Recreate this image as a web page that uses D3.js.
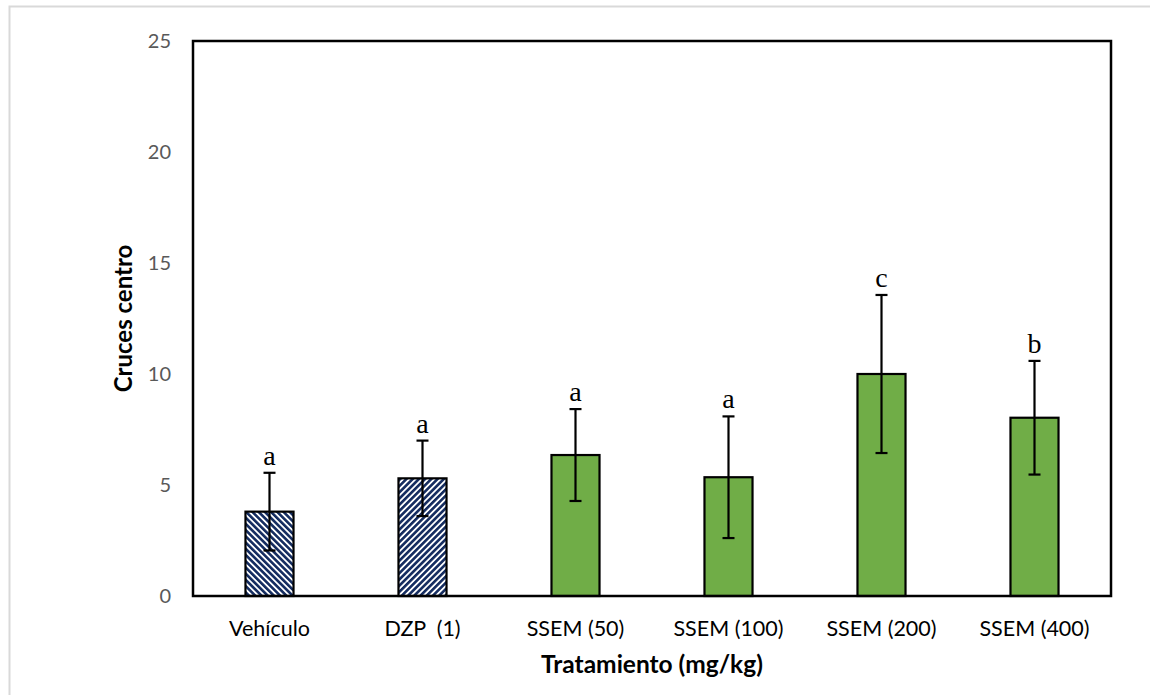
<!DOCTYPE html>
<html>
<head>
<meta charset="utf-8">
<script src="https://cdn.jsdelivr.net/npm/d3@7"></script>
<style>
  html, body { margin: 0; padding: 0; background: #fff; }
  svg { display: block; }
</style>
</head>
<body>
<svg id="chart" width="1150" height="695"></svg>
<script>
// Treatment groups, mean number of centre crossings, standard deviation and letters
const categories = ["Vehículo", "DZP  (1)", "SSEM (50)", "SSEM (100)", "SSEM (200)", "SSEM (400)"];
const means = [3.8, 5.3, 6.35, 5.35, 10.0, 8.03];
const errors = [1.75, 1.7, 2.07, 2.74, 3.56, 2.56];
const letters = ["a", "a", "a", "a", "c", "b"];
const fills = ["hatchBack", "hatchFwd", "green", "green", "green", "green"];
const yTicks = [0, 5, 10, 15, 20, 25];

const svg = d3.select("#chart");
const W = 1150, H = 695;
const margin = { left: 193, top: 41, right: 1111, bottom: 596 };
const sans = "Lato, 'Open Sans', sans-serif";

// Light frame round the chart
svg.append("rect")
  .attr("x", 9.5).attr("y", 6.5)
  .attr("width", W).attr("height", H)
  .attr("fill", "none").attr("stroke", "#d9d9d9").attr("stroke-width", 2);

// Hatch patterns for the two control groups
const defs = svg.append("defs");
function hatch(id, angle) {
  const p = defs.append("pattern")
    .attr("id", id).attr("patternUnits", "userSpaceOnUse")
    .attr("width", 4.4).attr("height", 4.4)
    .attr("patternTransform", `rotate(${angle})`);
  p.append("rect").attr("width", 4.4).attr("height", 4.4).attr("fill", "#ffffff");
  p.append("rect").attr("width", 2.6).attr("height", 4.4).attr("fill", "#142c60");
}
hatch("hatchBack", -45);
hatch("hatchFwd", 45);

const fillFor = k => k === "green" ? "#70ad47" : `url(#${k})`;

const x = d3.scaleBand()
  .domain(categories)
  .range([margin.left, margin.right])
  .paddingInner(0.686)
  .paddingOuter(0.343);

const y = d3.scaleLinear()
  .domain([0, 25])
  .range([margin.bottom, margin.top]);

// Y axis tick labels (no tick marks)
const yAxis = svg.append("g")
  .attr("transform", `translate(${margin.left},0)`)
  .call(d3.axisLeft(y).tickValues(yTicks).tickSize(0).tickPadding(22));
yAxis.select(".domain").remove();
yAxis.selectAll("text")
  .attr("fill", "#595959")
  .style("font-family", sans)
  .style("font-size", "20px");

// X axis category labels
const xAxis = svg.append("g")
  .attr("transform", `translate(0,${margin.bottom})`)
  .call(d3.axisBottom(x).tickSize(0).tickPadding(25));
xAxis.select(".domain").remove();
xAxis.selectAll("text")
  .attr("fill", "#000")
  .style("font-family", sans)
  .style("font-size", "21.5px")
  .style("white-space", "pre");

const data = categories.map((c, i) => ({ c, m: means[i], e: errors[i], l: letters[i], f: fills[i] }));

// Bars
svg.append("g").selectAll("rect")
  .data(data).join("rect")
  .attr("x", d => x(d.c))
  .attr("y", d => y(d.m))
  .attr("width", x.bandwidth())
  .attr("height", d => y(0) - y(d.m))
  .attr("fill", d => fillFor(d.f))
  .attr("stroke", "#000").attr("stroke-width", 2.2);

// Error bars
const eb = svg.append("g").attr("stroke", "#000").attr("stroke-width", 2.2);
data.forEach(d => {
  const cx = x(d.c) + x.bandwidth() / 2;
  eb.append("line").attr("x1", cx).attr("x2", cx).attr("y1", y(d.m + d.e)).attr("y2", y(d.m - d.e));
  eb.append("line").attr("x1", cx - 6).attr("x2", cx + 6).attr("y1", y(d.m + d.e)).attr("y2", y(d.m + d.e));
  eb.append("line").attr("x1", cx - 6).attr("x2", cx + 6).attr("y1", y(d.m - d.e)).attr("y2", y(d.m - d.e));
});

// Significance letters above the error bars
svg.append("g").selectAll("text")
  .data(data).join("text")
  .attr("x", d => x(d.c) + x.bandwidth() / 2)
  .attr("y", d => y(d.m + d.e) - 8)
  .attr("text-anchor", "middle")
  .style("font-family", "'Liberation Serif', 'DejaVu Serif', serif")
  .style("font-size", "28px")
  .attr("fill", "#000")
  .text(d => d.l);

// Plot frame
svg.append("rect")
  .attr("x", margin.left).attr("y", margin.top)
  .attr("width", margin.right - margin.left)
  .attr("height", margin.bottom - margin.top)
  .attr("fill", "none").attr("stroke", "#000").attr("stroke-width", 2.5);

// Axis titles
svg.append("text")
  .attr("transform", `translate(132,${(margin.top + margin.bottom) / 2}) rotate(-90)`)
  .attr("text-anchor", "middle")
  .style("font-family", sans)
  .style("font-weight", "bold").style("font-size", "24px")
  .text("Cruces centro");

svg.append("text")
  .attr("x", (margin.left + margin.right) / 2)
  .attr("y", 673)
  .attr("text-anchor", "middle")
  .style("font-family", sans)
  .style("font-weight", "bold").style("font-size", "24.5px")
  .text("Tratamiento (mg/kg)");
</script>
</body>
</html>
